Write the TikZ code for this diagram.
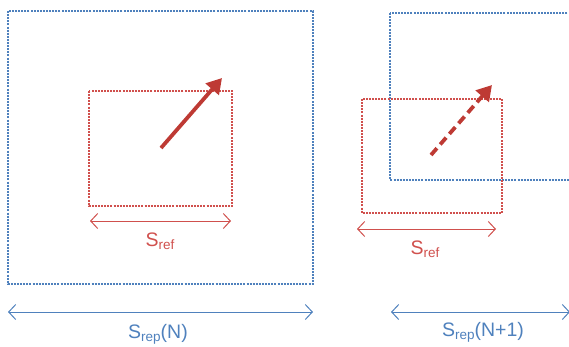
\documentclass[tikz,border=0pt]{standalone}
\usepackage{fontspec}
\setmainfont{Liberation Sans}
\usetikzlibrary{arrows.meta, positioning, calc}
\definecolor{cblue}{HTML}{4F81BD}
\definecolor{cred}{HTML}{D0504D}
\definecolor{cdark}{HTML}{BE3A34}
\newcommand{\lowsub}[1]{\raisebox{-0.35ex}{\fontsize{13.5}{15}\selectfont #1}}
\tikzset{
  every picture/.style={font=\fontsize{19.5}{22}\selectfont, x=1pt, y=-1pt},
  frame/.style={draw=#1, line width=1.1pt, dash pattern=on 2pt off 1.1pt},
  span/.style={draw=#1, line width=1pt, {Straight Barb[length=7pt,width=15pt]}-{Straight Barb[length=7pt,width=15pt]}},
  move/.style={draw=cdark, line width=3.8pt, -{Triangle[length=15pt,width=17pt]}},
  tag/.style={text=#1, inner sep=0pt, anchor=base},
}

\begin{document}
\begin{tikzpicture}
  \useasboundingbox (0,0) rectangle (569,346);
  \clip (0,0) rectangle (569,346);
  % (N) reference window inside the search area
  \coordinate (repA-nw) at (8,11);    \coordinate (repA-se) at (313,284);
  \coordinate (refA-nw) at (89,91);   \coordinate (refA-se) at (232,206);
  \draw[frame=cblue] (repA-nw) rectangle (repA-se);
  \draw[frame=cred] (refA-nw) rectangle (refA-se);
  \coordinate (tailA) at (161,148);   \coordinate (headA) at (222,78);
  \draw[move] (tailA) -- (headA);
  \coordinate (refA-l) at (90,221);   \coordinate (refA-r) at (231,221);
  \draw[span=cred] (refA-l) -- (refA-r);
  \node[tag=cred] (srefA) at (160,246) {S\lowsub{ref}};
  \coordinate (repA-l) at (8,312);    \coordinate (repA-r) at (313,312);
  \draw[span=cblue] (repA-l) -- (repA-r);
  \node[tag=cblue] (srepA) at (158,338) {S\lowsub{rep}(N)};
  % (N+1) search area moved along the motion
  \coordinate (repB-nw) at (390,13);  \coordinate (repB-se) at (600,180);
  \coordinate (refB-nw) at (362,99);  \coordinate (refB-se) at (502,213);
  \draw[frame=cblue] (repB-nw) rectangle (repB-se);
  \draw[frame=cred] (refB-nw) rectangle (refB-se);
  \coordinate (tailB) at (431,155);   \coordinate (headB) at (492,85);
  \draw[move, dash pattern=on 9pt off 5pt] (tailB) -- (headB);
  \coordinate (refB-l) at (357,229);  \coordinate (refB-r) at (496,229);
  \draw[span=cred] (refB-l) -- (refB-r);
  \node[tag=cred] (srefB) at (425,254) {S\lowsub{ref}};
  \coordinate (repB-l) at (391,312);  \coordinate (repB-r) at (570,312);
  \draw[span=cblue] (repB-l) -- (repB-r);
  \node[tag=cblue] (srepB) at (483,336) {S\lowsub{rep}(N+1)};
\end{tikzpicture}
\end{document}
